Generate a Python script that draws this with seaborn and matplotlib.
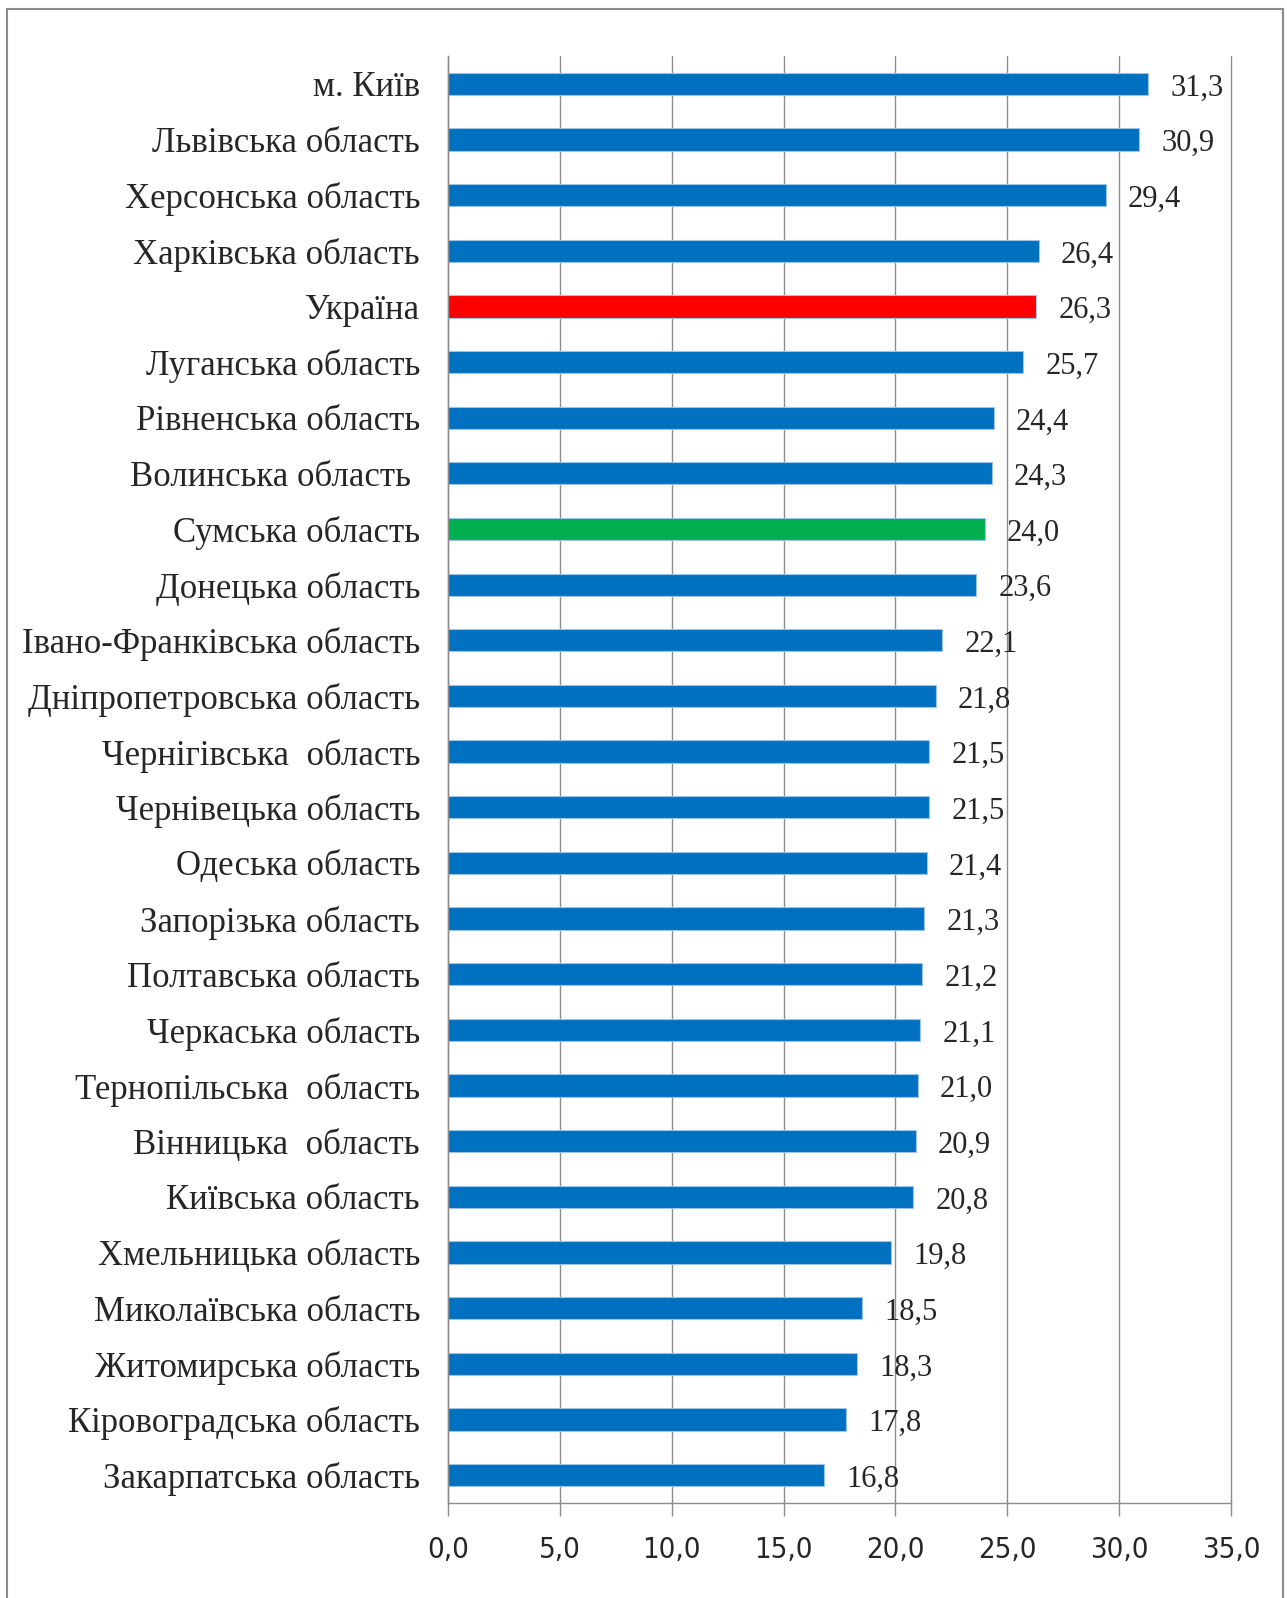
import numpy as np
import pandas as pd
import matplotlib
matplotlib.use('Agg')
import matplotlib.pyplot as plt
import seaborn as sns
from matplotlib.patches import Rectangle
from matplotlib.ticker import FixedLocator, NullFormatter

regions = ["м. Київ", "Львівська область", "Херсонська область", "Харківська область",
           "Україна", "Луганська область", "Рівненська область", "Волинська область ",
           "Сумська область", "Донецька область", "Івано-Франківська область",
           "Дніпропетровська область", "Чернігівська  область", "Чернівецька область",
           "Одеська область", "Запорізька область", "Полтавська область",
           "Черкаська область", "Тернопільська  область", "Вінницька  область",
           "Київська область", "Хмельницька область", "Миколаївська область",
           "Житомирська область", "Кіровоградська область", "Закарпатська область"]
values = [31.3, 30.9, 29.4, 26.4, 26.3, 25.7, 24.4, 24.3, 24.0, 23.6, 22.1, 21.8, 21.5,
          21.5, 21.4, 21.3, 21.2, 21.1, 21.0, 20.9, 20.8, 19.8, 18.5, 18.3, 17.8, 16.8]
x_ticks = [0, 5, 10, 15, 20, 25, 30, 35]

BLUE = '#0070C0'
RED = '#FF0000'
GREEN = '#00B050'
palette = {r: BLUE for r in regions}
palette["Україна"] = RED
palette["Сумська область"] = GREEN

df = pd.DataFrame({'region': regions, 'value': values})

sns.set_style('white')
plt.rcParams['font.family'] = ['Liberation Serif', 'DejaVu Serif']

fig = plt.figure(figsize=(12.87, 15.98), dpi=100)
ax = fig.add_axes([0.348, 0.0595, 0.6085, 0.9055])

sns.barplot(data=df, y='region', x='value', hue='region', palette=palette,
            orient='h', width=0.4, saturation=1, legend=False,
            edgecolor='#9DC3E6', linewidth=0.8, ax=ax)

for cont in ax.containers:
    labs = [f"{b.get_width():.1f}".replace('.', ',') for b in cont]
    for t in ax.bar_label(cont, labels=labs, padding=16, fontsize=22):
        t.xyann = (16, -3)

ax.set_xlim(0, 35)
ax.set_ylim(len(regions) - 0.5, -0.5)
ax.set_xticks(x_ticks)
ax.set_xticklabels([f"{t:.1f}".replace('.', ',') for t in x_ticks],
                   family=['Liberation Sans Narrow', 'DejaVu Sans'],
                   stretch='condensed', fontsize=21)
ax.grid(axis='x', color='#8c8c8c', linewidth=1)
for gl in ax.get_xgridlines():
    gl.set_clip_on(False)
ax.set_axisbelow(True)

# category labels with ticks between rows
ax.tick_params(axis='y', which='major', length=0, pad=20, labelsize=25)
ax.yaxis.set_minor_locator(FixedLocator(np.arange(-0.5, len(regions), 1)))
ax.yaxis.set_minor_formatter(NullFormatter())
ax.tick_params(axis='y', which='minor', length=9, color='#8c8c8c', width=1, direction='out')
ax.tick_params(axis='x', which='major', length=9, color='#8c8c8c', width=1,
               direction='out', pad=15, bottom=True)

for s in ['top', 'right']:
    ax.spines[s].set_visible(False)
for s in ['left', 'bottom']:
    ax.spines[s].set_color('#8c8c8c')
    ax.spines[s].set_linewidth(1)

ax.set_xlabel('')
ax.set_ylabel('')

fig.patches.append(Rectangle((7 / 1287, -0.01), 1276 / 1287, 1 - 9 / 1598 + 0.01,
                             transform=fig.transFigure, fill=False,
                             edgecolor='#8c8c8c', linewidth=1.5))

fig.savefig('out.png', dpi=100, facecolor='white')
